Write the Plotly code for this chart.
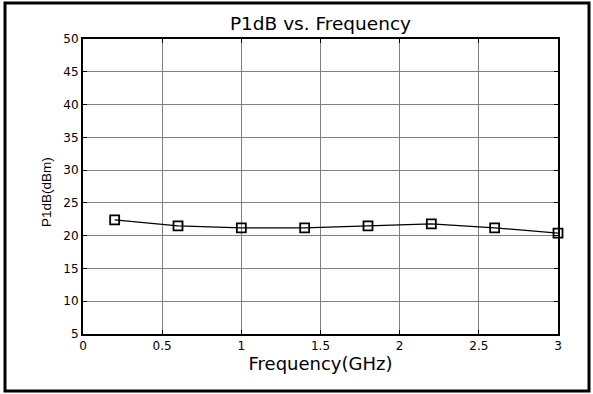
import plotly.graph_objects as go

freq = [0.2, 0.6, 1.0, 1.4, 1.8, 2.2, 2.6, 3.0]
p1db = [22.4, 21.5, 21.2, 21.2, 21.5, 21.8, 21.2, 20.4]
x_ticks = [0, 0.5, 1, 1.5, 2, 2.5, 3]
x_labels = ["0", "0.5", "1", "1.5", "2", "2.5", "3"]
y_ticks = [5, 10, 15, 20, 25, 30, 35, 40, 45, 50]

W, H = 593, 394
L, R, T, B = 83, 35, 39, 60
pw, ph = W - L - R, H - T - B

def px(x):
    return (x - L) / pw

def py(y):
    return (H - B - y) / ph

fig = go.Figure()
fig.add_trace(go.Scatter(
    x=freq, y=p1db, mode="lines+markers",
    line=dict(color="black", width=1.3),
    marker=dict(symbol="square-open", size=9, color="black", line=dict(width=1.8, color="black")),
    cliponaxis=False, showlegend=False,
))

wide = "DejaVu Sans, Verdana, sans-serif"
narrow = "Liberation Sans, Arial, sans-serif"
fig.update_layout(
    width=W, height=H,
    margin=dict(l=L, r=R, t=T, b=B),
    paper_bgcolor="white", plot_bgcolor="white",
    font=dict(family=wide, color="black", size=12),
    title=dict(text="P1dB vs. Frequency", x=0.5, xanchor="center", xref="paper",
               y=1 - 24 / H, yanchor="middle", font=dict(size=18.5, family=wide)),
    xaxis=dict(range=[0, 3], tickvals=x_ticks, ticktext=x_labels,
               showgrid=True, gridcolor="#808080", gridwidth=1,
               ticks="inside", ticklen=4, tickcolor="black", mirror="ticks",
               showline=True, linecolor="black", linewidth=2,
               zeroline=False, tickfont=dict(size=12, family=wide),
               title=dict(text="Frequency(GHz)", font=dict(size=18, family=wide), standoff=4)),
    yaxis=dict(range=[5, 50], tickvals=y_ticks,
               showgrid=True, gridcolor="#808080", gridwidth=1,
               ticks="inside", ticklen=4, tickcolor="black", mirror="ticks",
               showline=True, linecolor="black", linewidth=2,
               zeroline=False, tickfont=dict(size=12, family=wide)),
)

fig.add_annotation(text="P1dB(dBm)", textangle=-90, showarrow=False,
                   xref="paper", yref="paper", x=px(46), y=py(192),
                   xanchor="center", yanchor="middle",
                   font=dict(size=13.5, family=narrow, color="black"))

fig.add_shape(type="rect", xref="paper", yref="paper",
              x0=px(5), x1=px(589), y0=py(391), y1=py(3),
              line=dict(color="black", width=3), fillcolor="rgba(0,0,0,0)", layer="above")

fig.write_html("out.html")
